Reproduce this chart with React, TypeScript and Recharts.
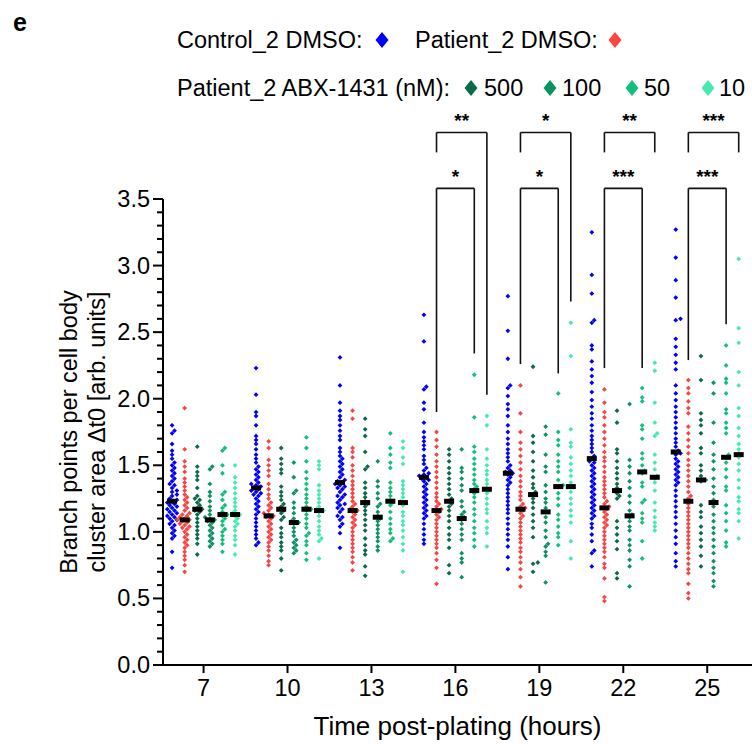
import React from 'react';
import { ScatterChart, Scatter, XAxis, YAxis, ReferenceLine } from 'recharts';

// imaging sessions (hours post-plating)
const sessionHours = [7, 10, 13, 16, 19, 22, 25];

// one inner list per session
const controlDmso = [
  [1.80, 1.76, 1.74, 1.66, 1.61, 1.58, 1.55, 1.52, 1.50, 1.48, 1.46, 1.44, 1.42, 1.40, 1.38, 1.36, 1.35, 1.33, 1.31, 1.30, 1.28, 1.27, 1.25, 1.24, 1.23, 1.22, 1.21, 1.20, 1.19, 1.18, 1.17, 1.16, 1.15, 1.14, 1.13, 1.12, 1.11, 1.10, 1.09, 1.08, 1.06, 1.05, 1.03, 1.01, 0.99, 0.97, 0.95, 0.85, 0.73],
  [2.23, 2.03, 1.90, 1.87, 1.80, 1.72, 1.69, 1.66, 1.62, 1.58, 1.55, 1.52, 1.49, 1.47, 1.45, 1.43, 1.41, 1.39, 1.37, 1.36, 1.35, 1.34, 1.33, 1.32, 1.31, 1.30, 1.29, 1.28, 1.27, 1.25, 1.23, 1.21, 1.19, 1.17, 1.15, 1.13, 1.10, 1.07, 1.04, 1.01, 0.98, 0.95, 0.92, 0.90],
  [2.31, 2.10, 1.97, 1.91, 1.87, 1.84, 1.80, 1.76, 1.72, 1.69, 1.63, 1.60, 1.57, 1.55, 1.53, 1.51, 1.49, 1.47, 1.45, 1.43, 1.41, 1.39, 1.38, 1.37, 1.36, 1.35, 1.34, 1.33, 1.32, 1.30, 1.28, 1.27, 1.26, 1.24, 1.22, 1.21, 1.20, 1.18, 1.17, 1.15, 1.12, 1.11, 1.09, 1.06, 1.04, 0.99, 0.88],
  [2.63, 2.43, 2.09, 2.07, 1.97, 1.92, 1.82, 1.75, 1.71, 1.68, 1.65, 1.62, 1.57, 1.54, 1.51, 1.48, 1.46, 1.44, 1.43, 1.42, 1.41, 1.40, 1.39, 1.38, 1.36, 1.34, 1.32, 1.30, 1.28, 1.26, 1.24, 1.22, 1.20, 1.18, 1.16, 1.14, 1.12, 1.10, 1.06, 1.02, 0.98, 0.94, 0.91],
  [2.77, 2.51, 2.30, 2.10, 2.08, 2.02, 1.96, 1.92, 1.87, 1.80, 1.75, 1.70, 1.66, 1.62, 1.59, 1.56, 1.53, 1.50, 1.48, 1.46, 1.45, 1.44, 1.43, 1.41, 1.39, 1.37, 1.35, 1.32, 1.29, 1.26, 1.23, 1.20, 1.17, 1.14, 1.10, 1.06, 1.02, 0.98, 0.94, 0.89, 0.81, 0.72],
  [3.25, 2.93, 2.79, 2.59, 2.57, 2.40, 2.37, 2.28, 2.22, 2.17, 2.12, 2.05, 1.99, 1.94, 1.89, 1.85, 1.80, 1.76, 1.72, 1.69, 1.66, 1.63, 1.60, 1.57, 1.55, 1.53, 1.52, 1.50, 1.48, 1.46, 1.44, 1.42, 1.40, 1.38, 1.36, 1.34, 1.32, 1.30, 1.28, 1.26, 1.24, 1.22, 1.20, 1.18, 1.16, 1.14, 1.12, 1.10, 1.06, 1.03, 0.98, 0.93, 0.86, 0.84, 0.74],
  [3.27, 3.06, 2.89, 2.76, 2.60, 2.59, 2.45, 2.39, 2.33, 2.27, 2.22, 2.10, 2.04, 1.99, 1.94, 1.90, 1.86, 1.82, 1.78, 1.74, 1.70, 1.67, 1.64, 1.61, 1.60, 1.59, 1.58, 1.55, 1.53, 1.51, 1.49, 1.47, 1.45, 1.43, 1.41, 1.39, 1.37, 1.35, 1.31, 1.27, 1.23, 1.19, 1.15, 1.11, 1.06, 1.01, 0.96, 0.91, 0.84, 0.78, 0.74],
];
const patientDmso = [
  [1.93, 1.62, 1.53, 1.49, 1.45, 1.40, 1.37, 1.34, 1.31, 1.28, 1.26, 1.24, 1.22, 1.20, 1.18, 1.16, 1.14, 1.13, 1.12, 1.11, 1.10, 1.09, 1.09, 1.08, 1.07, 1.06, 1.05, 1.04, 1.03, 1.02, 1.00, 0.98, 0.96, 0.94, 0.92, 0.90, 0.88, 0.85, 0.82, 0.79, 0.75, 0.70],
  [1.68, 1.63, 1.54, 1.50, 1.46, 1.42, 1.36, 1.32, 1.28, 1.25, 1.22, 1.20, 1.18, 1.16, 1.14, 1.13, 1.12, 1.11, 1.10, 1.08, 1.06, 1.04, 1.02, 1.00, 0.98, 0.96, 0.94, 0.92, 0.89, 0.86, 0.82, 0.78, 0.75],
  [1.91, 1.85, 1.63, 1.60, 1.56, 1.50, 1.46, 1.42, 1.38, 1.35, 1.32, 1.29, 1.26, 1.23, 1.21, 1.19, 1.17, 1.16, 1.15, 1.13, 1.11, 1.09, 1.07, 1.05, 1.03, 1.00, 0.97, 0.94, 0.91, 0.88, 0.85, 0.81, 0.77, 0.71],
  [1.75, 1.69, 1.64, 1.58, 1.53, 1.49, 1.45, 1.41, 1.37, 1.33, 1.29, 1.26, 1.23, 1.21, 1.19, 1.17, 1.16, 1.15, 1.13, 1.11, 1.09, 1.06, 1.03, 1.00, 0.97, 0.94, 0.91, 0.88, 0.84, 0.79, 0.73, 0.61],
  [2.10, 1.89, 1.75, 1.67, 1.62, 1.57, 1.52, 1.47, 1.42, 1.38, 1.34, 1.30, 1.27, 1.24, 1.21, 1.19, 1.18, 1.17, 1.16, 1.14, 1.12, 1.10, 1.07, 1.04, 1.01, 0.98, 0.95, 0.92, 0.88, 0.85, 0.81, 0.77, 0.72, 0.66, 0.59],
  [2.07, 1.97, 1.90, 1.86, 1.80, 1.75, 1.70, 1.65, 1.60, 1.56, 1.53, 1.49, 1.45, 1.41, 1.38, 1.35, 1.32, 1.29, 1.26, 1.23, 1.21, 1.19, 1.18, 1.17, 1.15, 1.13, 1.11, 1.09, 1.07, 1.05, 1.03, 1.00, 0.97, 0.94, 0.91, 0.88, 0.85, 0.81, 0.76, 0.73, 0.65, 0.51, 0.48],
  [2.14, 2.08, 2.04, 1.98, 1.93, 1.89, 1.79, 1.74, 1.69, 1.64, 1.59, 1.54, 1.50, 1.46, 1.42, 1.38, 1.34, 1.30, 1.27, 1.25, 1.23, 1.21, 1.18, 1.15, 1.12, 1.09, 1.06, 1.03, 1.00, 0.97, 0.94, 0.91, 0.88, 0.84, 0.80, 0.76, 0.72, 0.69, 0.61, 0.54, 0.50],
];
const abx500 = [
  [1.64, 1.49, 1.45, 1.42, 1.39, 1.33, 1.27, 1.25, 1.24, 1.22, 1.20, 1.18, 1.17, 1.16, 1.15, 1.13, 1.10, 1.07, 1.04, 1.01, 0.98, 0.95, 0.91, 0.83],
  [1.63, 1.55, 1.51, 1.47, 1.44, 1.34, 1.30, 1.27, 1.24, 1.21, 1.19, 1.17, 1.16, 1.14, 1.11, 1.09, 1.03, 0.99, 0.96, 0.92, 0.89, 0.86, 0.80, 0.71],
  [1.85, 1.77, 1.72, 1.60, 1.49, 1.47, 1.37, 1.33, 1.29, 1.26, 1.23, 1.21, 1.19, 1.16, 1.13, 1.09, 1.05, 1.01, 0.95, 0.90, 0.86, 0.83, 0.74, 0.67],
  [1.62, 1.58, 1.53, 1.48, 1.44, 1.40, 1.36, 1.32, 1.28, 1.25, 1.23, 1.21, 1.19, 1.16, 1.12, 1.08, 1.03, 0.98, 0.94, 0.88, 0.75, 0.69],
  [2.24, 1.72, 1.67, 1.60, 1.53, 1.46, 1.41, 1.36, 1.33, 1.30, 1.28, 1.25, 1.22, 1.18, 1.13, 1.08, 1.03, 0.96, 0.77, 0.76, 0.70],
  [1.91, 1.82, 1.62, 1.59, 1.53, 1.48, 1.44, 1.40, 1.36, 1.33, 1.31, 1.29, 1.27, 1.25, 1.08, 1.03, 0.98, 0.93, 0.87, 0.69, 0.65],
  [2.32, 2.14, 1.89, 1.84, 1.80, 1.74, 1.63, 1.59, 1.50, 1.46, 1.42, 1.39, 1.38, 1.20, 1.15, 1.11, 1.04, 0.99, 0.94, 0.89, 0.82, 0.74],
];
const abx100 = [
  [1.49, 1.47, 1.36, 1.30, 1.27, 1.23, 1.19, 1.16, 1.13, 1.11, 1.10, 1.09, 1.08, 1.07, 1.05, 1.03, 1.01, 0.99, 0.97, 0.95, 0.93, 0.91, 0.89],
  [1.52, 1.41, 1.31, 1.29, 1.22, 1.18, 1.14, 1.10, 1.08, 1.07, 1.06, 1.03, 1.00, 0.97, 0.94, 0.92, 0.90, 0.88, 0.86, 0.84],
  [1.53, 1.38, 1.34, 1.29, 1.25, 1.21, 1.19, 1.15, 1.12, 1.10, 1.08, 1.05, 1.02, 0.99, 0.96, 0.93, 0.89, 0.86],
  [1.62, 1.48, 1.45, 1.40, 1.35, 1.31, 1.23, 1.19, 1.15, 1.13, 1.11, 1.09, 1.06, 1.02, 0.98, 0.94, 0.84, 0.80, 0.77, 0.66],
  [1.79, 1.73, 1.58, 1.49, 1.45, 1.35, 1.30, 1.25, 1.22, 1.18, 1.15, 1.11, 1.07, 1.01, 0.96, 0.91, 0.89, 0.85, 0.82, 0.62],
  [1.96, 1.54, 1.49, 1.44, 1.38, 1.33, 1.27, 1.22, 1.16, 1.13, 1.11, 1.08, 1.04, 1.01, 0.94, 0.90, 0.86, 0.79, 0.74, 0.59],
  [2.12, 2.04, 1.82, 1.67, 1.58, 1.53, 1.47, 1.40, 1.34, 1.29, 1.24, 1.19, 1.13, 1.08, 1.03, 0.99, 0.94, 0.89, 0.84, 0.78, 0.73, 0.69, 0.63, 0.59],
];
const abx50 = [
  [1.63, 1.61, 1.50, 1.44, 1.30, 1.28, 1.24, 1.20, 1.18, 1.15, 1.13, 1.12, 1.10, 1.08, 1.05, 1.02, 1.00, 0.97, 0.94, 0.91, 0.85],
  [1.71, 1.63, 1.53, 1.45, 1.40, 1.36, 1.32, 1.28, 1.25, 1.22, 1.19, 1.17, 1.16, 1.13, 1.10, 1.06, 1.03, 0.99, 0.97, 0.93, 0.90, 0.84, 0.79],
  [1.74, 1.63, 1.58, 1.52, 1.48, 1.37, 1.33, 1.30, 1.27, 1.24, 1.22, 1.20, 1.15, 1.10, 1.06, 1.02, 0.99, 0.95, 0.93],
  [2.18, 1.86, 1.64, 1.60, 1.55, 1.51, 1.47, 1.43, 1.39, 1.36, 1.34, 1.32, 1.29, 1.26, 1.22, 1.17, 1.13, 1.08, 1.03, 0.99, 0.94, 0.89],
  [2.04, 1.75, 1.69, 1.65, 1.58, 1.53, 1.49, 1.45, 1.39, 1.35, 1.34, 1.29, 1.25, 1.20, 1.13, 1.09, 1.04, 0.99, 0.96, 0.90],
  [2.08, 2.01, 1.98, 1.80, 1.77, 1.70, 1.59, 1.55, 1.50, 1.46, 1.44, 1.37, 1.34, 1.24, 1.22, 1.14, 1.10, 1.07, 0.93, 0.80],
  [2.40, 2.25, 2.15, 2.12, 2.04, 1.92, 1.89, 1.82, 1.78, 1.74, 1.58, 1.56, 1.52, 1.47, 1.41, 1.34, 1.31, 1.20, 1.14, 1.08, 1.01, 0.92, 0.89],
];
const abx10 = [
  [1.50, 1.41, 1.37, 1.33, 1.29, 1.25, 1.22, 1.19, 1.16, 1.14, 1.13, 1.12, 1.10, 1.08, 1.06, 1.04, 1.01, 0.97, 0.94, 0.90, 0.83],
  [1.53, 1.50, 1.47, 1.35, 1.31, 1.28, 1.25, 1.22, 1.19, 1.17, 1.16, 1.15, 1.12, 1.08, 1.04, 1.01, 0.98, 0.95, 0.93, 0.80],
  [1.68, 1.63, 1.56, 1.51, 1.38, 1.35, 1.32, 1.29, 1.26, 1.23, 1.22, 1.20, 1.15, 1.12, 1.08, 1.05, 1.01, 0.96, 0.91, 0.86, 0.70],
  [1.87, 1.80, 1.62, 1.55, 1.50, 1.46, 1.43, 1.39, 1.36, 1.33, 1.31, 1.29, 1.25, 1.21, 1.17, 1.14, 1.08, 1.03, 0.99, 0.89],
  [2.57, 2.32, 1.77, 1.67, 1.64, 1.56, 1.51, 1.46, 1.42, 1.37, 1.34, 1.30, 1.25, 1.21, 1.16, 1.12, 1.07, 0.93, 0.80],
  [2.27, 2.21, 1.97, 1.82, 1.74, 1.72, 1.58, 1.52, 1.47, 1.42, 1.40, 1.37, 1.31, 1.22, 1.16, 1.11, 1.07, 1.04, 1.01],
  [3.05, 2.53, 2.42, 2.20, 2.10, 1.93, 1.87, 1.78, 1.72, 1.66, 1.62, 1.59, 1.56, 1.51, 1.46, 1.39, 1.33, 1.26, 1.23, 1.17, 1.14, 1.08, 0.95],
];

// medians (black bars)
const controlMedian = [1.23, 1.33, 1.37, 1.41, 1.44, 1.55, 1.60];
const patientMedian = [1.09, 1.12, 1.16, 1.16, 1.17, 1.18, 1.23];
const abx500Median = [1.17, 1.17, 1.22, 1.23, 1.28, 1.31, 1.39];
const abx100Median = [1.09, 1.07, 1.11, 1.10, 1.15, 1.12, 1.22];
const abx50Median = [1.13, 1.17, 1.23, 1.31, 1.34, 1.45, 1.56];
const abx10Median = [1.13, 1.16, 1.22, 1.32, 1.34, 1.41, 1.58];

// significance, Patient_2 DMSO vs 10 nM (outer) and vs 50 nM (inner)
const sigTimes = [16, 19, 22, 25];
const sigVs10 = ['**', '*', '**', '***'];
const sigVs50 = ['*', '*', '***', '***'];

const xTicks = [7, 10, 13, 16, 19, 22, 25];
const yTicks = Array.from({ length: 36 }, (_, i) => i / 10);

const FONT = '"Liberation Sans", Arial, sans-serif';
const PX_PER_H = 28;
const PX_PER_UNIT = 133.06;
const groupOffsets = [-1.125, -0.675, -0.225, 0.225, 0.675, 1.125];

const groups = [
  { name: 'Control_2 DMSO', values: controlDmso, median: controlMedian, color: '#0000ff' },
  { name: 'Patient_2 DMSO', values: patientDmso, median: patientMedian, color: '#f94444' },
  { name: '500', values: abx500, median: abx500Median, color: '#0b6a48' },
  { name: '100', values: abx100, median: abx100Median, color: '#0d9262' },
  { name: '50', values: abx50, median: abx50Median, color: '#10c07a' },
  { name: '10', values: abx10, median: abx10Median, color: '#45eaae' },
];

// simple beeswarm so overlapping points spread sideways
function swarm(values: number[], center: number) {
  const placed: { dx: number; py: number }[] = [];
  const order = values.map((_, i) => i).sort((a, b) => values[a] - values[b]);
  const out: { x: number; y: number }[] = new Array(values.length);
  for (const i of order) {
    const py = values[i] * PX_PER_UNIT;
    let dx = 0;
    for (let k = 0; k < 9; k++) {
      const cand = k === 0 ? 0 : (k % 2 ? 1 : -1) * Math.ceil(k / 2) * 2.4;
      dx = cand;
      if (placed.every((p) => Math.hypot(p.dx - cand, p.py - py) >= 3.3)) break;
    }
    placed.push({ dx, py });
    out[i] = { x: center + dx / PX_PER_H, y: values[i] };
  }
  return out;
}

const series = groups.map((g, gi) => ({
  ...g,
  points: sessionHours.flatMap((t, ti) => swarm(g.values[ti], t + groupOffsets[gi])),
}));

const medianPoints = groups.flatMap((g, gi) =>
  sessionHours.map((t, ti) => ({ x: t + groupOffsets[gi], y: g.median[ti] }))
);

const Dot = (props: any) => {
  const { cx, cy, fill } = props;
  const r = 2.4;
  return <path d={`M${cx},${cy - r}L${cx + r},${cy}L${cx},${cy + r}L${cx - r},${cy}Z`} fill={fill} />;
};

const MedianBar = (props: any) => {
  const { cx, cy } = props;
  return <rect x={cx - 5} y={cy - 2.5} width={10} height={5} fill="#000" />;
};

const YTick = (props: any) => {
  const { x, y, payload } = props;
  const v = payload.value;
  const major = Math.abs(v * 2 - Math.round(v * 2)) < 1e-6;
  return (
    <g>
      <line x1={x - (major ? 10 : 6)} x2={x} y1={y} y2={y} stroke="#000" strokeWidth={2} />
      {major && (
        <text x={x - 13} y={y} textAnchor="end" dominantBaseline="central" fontSize={23.5} fill="#000" fontFamily={FONT}>
          {v.toFixed(1)}
        </text>
      )}
    </g>
  );
};

const YLabel = () => (
  <g fontFamily={FONT} fontSize={23.5} fill="#000">
    <text transform="translate(77,432) rotate(-90)" textAnchor="middle">Branch points per cell body</text>
    <text transform="translate(105,432) rotate(-90)" textAnchor="middle">cluster area Δt0 [arb. units]</text>
  </g>
);

// bracket geometry (value units)
const OUTER_TOP = 4.0;
const INNER_TOP = 3.58;
const OUTER_SHORT = 3.85;
const outerRightEnd = [2.03, 2.73, OUTER_SHORT, OUTER_SHORT];
const innerLeftEnd = [1.9, 2.26, 2.23, 2.29];
const innerRightEnd = [2.34, 2.19, 2.23, 2.56];

function Legend() {
  const diamond = (cx: number, cy: number, fill: string) => (
    <path d={`M${cx},${cy - 8}L${cx + 6.5},${cy}L${cx},${cy + 8}L${cx - 6.5},${cy}Z`} fill={fill} />
  );
  return (
    <svg width={752} height={110} style={{ position: 'absolute', left: 0, top: 0 }} fontFamily={FONT} fontSize={23.5}>
      <text x={13} y={31} fontWeight="bold" fontSize={25}>e</text>
      <text x={177} y={48}>Control_2 DMSO:</text>
      {diamond(382, 40, groups[0].color)}
      <text x={415} y={48}>Patient_2 DMSO:</text>
      {diamond(615, 40, groups[1].color)}
      <text x={177} y={96}>Patient_2 ABX-1431 (nM):</text>
      {diamond(471, 88, groups[2].color)}
      <text x={484} y={96}>{groups[2].name}</text>
      {diamond(550, 88, groups[3].color)}
      <text x={562} y={96}>{groups[3].name}</text>
      {diamond(632, 88, groups[4].color)}
      <text x={644} y={96}>{groups[4].name}</text>
      {diamond(708, 88, groups[5].color)}
      <text x={719} y={96}>{groups[5].name}</text>
    </svg>
  );
}

export default function App() {
  const starLabel = (value: string) => ({
    value,
    position: 'top' as const,
    offset: 5,
    fill: '#000',
    fontSize: 19,
    fontWeight: 'bold',
    fontFamily: FONT,
  });
  const line = { stroke: '#111', strokeWidth: 1.6, ifOverflow: 'visible' as const };

  return (
    <div style={{ position: 'absolute', left: 0, top: 0, width: 752, height: 749, background: '#fff', fontFamily: FONT }}>
      <ScatterChart width={752} height={749} margin={{ top: 199, right: 0, bottom: 54, left: 103 }}>
        <XAxis
          type="number"
          dataKey="x"
          domain={[5.55, 26.6]}
          allowDataOverflow
          ticks={xTicks}
          interval={0}
          height={30}
          tickSize={8}
          tickMargin={6}
          tickLine={{ stroke: '#000', strokeWidth: 2 }}
          axisLine={{ stroke: '#000', strokeWidth: 2 }}
          tick={{ fill: '#000', fontSize: 23.5, fontFamily: FONT }}
          label={{ value: 'Time post-plating (hours)', position: 'bottom', offset: 22, fill: '#000', fontSize: 26, fontFamily: FONT }}
        />
        <YAxis
          type="number"
          dataKey="y"
          domain={[0, 3.5]}
          ticks={yTicks}
          interval={0}
          width={60}
          tickSize={0}
          tickMargin={0}
          tickLine={false}
          axisLine={{ stroke: '#000', strokeWidth: 2 }}
          tick={<YTick />}
          label={{ content: () => <YLabel /> }}
        />
        {series.map((s) => (
          <Scatter key={s.name} name={s.name} data={s.points} fill={s.color} shape={<Dot />} isAnimationActive={false} />
        ))}
        <Scatter name="median" data={medianPoints} fill="#000" shape={<MedianBar />} isAnimationActive={false} />
        {sigTimes.map((t, i) => {
          const xl = t + groupOffsets[1];
          const x50 = t + groupOffsets[4];
          const x10 = t + groupOffsets[5];
          return (
            <React.Fragment key={t}>
              <ReferenceLine segment={[{ x: xl, y: OUTER_TOP }, { x: x10, y: OUTER_TOP }]} {...line} label={starLabel(sigVs10[i])} />
              <ReferenceLine segment={[{ x: xl, y: OUTER_TOP }, { x: xl, y: OUTER_SHORT }]} {...line} />
              <ReferenceLine segment={[{ x: x10, y: OUTER_TOP }, { x: x10, y: outerRightEnd[i] }]} {...line} />
              <ReferenceLine segment={[{ x: xl, y: INNER_TOP }, { x: x50, y: INNER_TOP }]} {...line} label={starLabel(sigVs50[i])} />
              <ReferenceLine segment={[{ x: xl, y: INNER_TOP }, { x: xl, y: innerLeftEnd[i] }]} {...line} />
              <ReferenceLine segment={[{ x: x50, y: INNER_TOP }, { x: x50, y: innerRightEnd[i] }]} {...line} />
            </React.Fragment>
          );
        })}
      </ScatterChart>
      <Legend />
    </div>
  );
}
